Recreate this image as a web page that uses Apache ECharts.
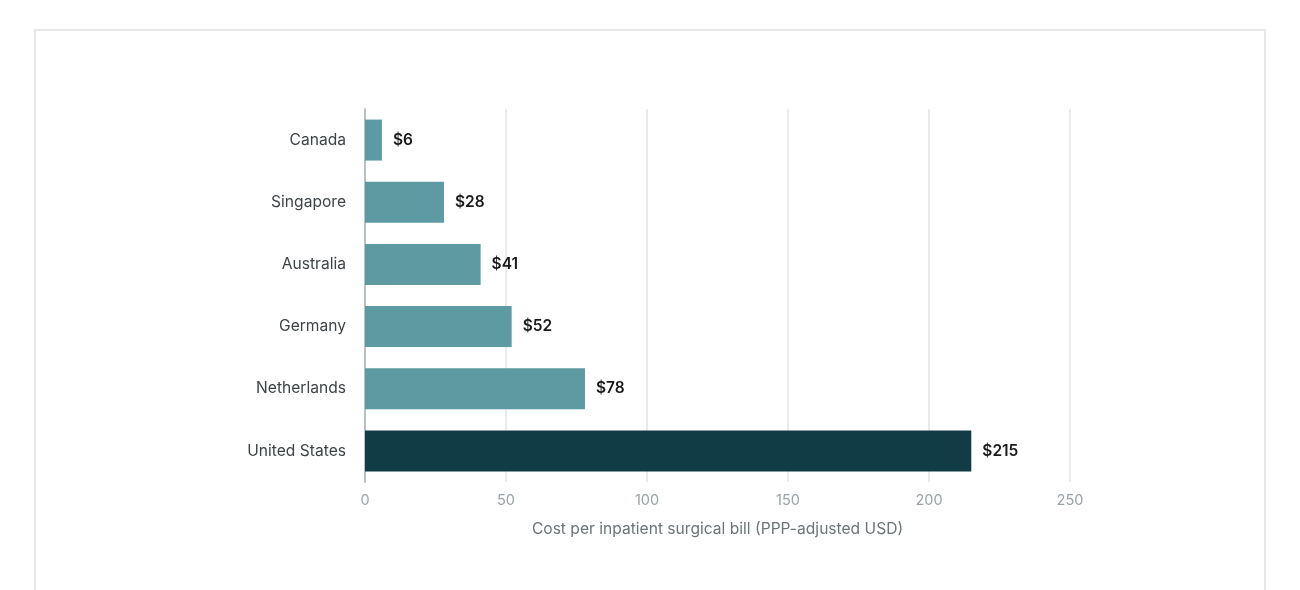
<!DOCTYPE html>
<html>
<head>
<meta charset="utf-8">
<script src="https://cdn.jsdelivr.net/npm/echarts@6/dist/echarts.min.js"></script>
<style>
  html, body { margin: 0; padding: 0; background: #fff; }
  #frame {
    position: absolute; left: 34px; top: 29px; width: 1228px; height: 600px;
    border: 2px solid #e5e8e7; box-sizing: content-box;
  }
  #chart { position: absolute; left: 0; top: 0; width: 1300px; height: 590px; }
</style>
</head>
<body>
<div id="frame"></div>
<div id="chart"></div>
<script>
var countries = ["Canada", "Singapore", "Australia", "Germany", "Netherlands", "United States"];
var costs = [6, 28, 41, 52, 78, 215];
var xTicks = [0, 50, 100, 150, 200, 250];

var barColor = "#5e9aa1";
var highlight = "#123c45";
var font = "Inter, 'Liberation Sans', sans-serif";

var data = costs.map(function (v, i) {
  return {
    value: v,
    itemStyle: { color: countries[i] === "United States" ? highlight : barColor }
  };
});

var chart = echarts.init(document.getElementById("chart"));
chart.setOption({
  animation: false,
  grid: { left: 365, right: 230, top: 109, bottom: 108, containLabel: false },
  xAxis: {
    type: "value",
    min: xTicks[0],
    max: xTicks[xTicks.length - 1],
    interval: 50,
    name: "Cost per inpatient surgical bill (PPP-adjusted USD)",
    nameLocation: "middle",
    nameGap: 39,
    nameTextStyle: { color: "#6b7478", fontSize: 15.6, fontFamily: font },
    axisLine: { show: false },
    axisTick: { show: false },
    axisLabel: { color: "#9aa3a7", fontSize: 14.5, fontFamily: font, margin: 11 },
    splitLine: { lineStyle: { color: "#e8ebeb", width: 2 } }
  },
  yAxis: {
    type: "category",
    data: countries,
    inverse: true,
    axisLine: { show: true, lineStyle: { color: "#b9c1c3", width: 2 } },
    axisTick: { show: false },
    axisLabel: { color: "#3d4447", fontSize: 15.6, fontFamily: font, margin: 19 },
    splitLine: { show: false }
  },
  series: [{
    type: "bar",
    data: data,
    barWidth: 41,
    label: {
      show: true,
      position: "right",
      distance: 11,
      formatter: function (p) { return "$" + p.value; },
      color: "#1a1a1a",
      fontSize: 15.5,
      fontWeight: 600,
      fontFamily: font
    }
  }]
});
</script>
</body>
</html>
